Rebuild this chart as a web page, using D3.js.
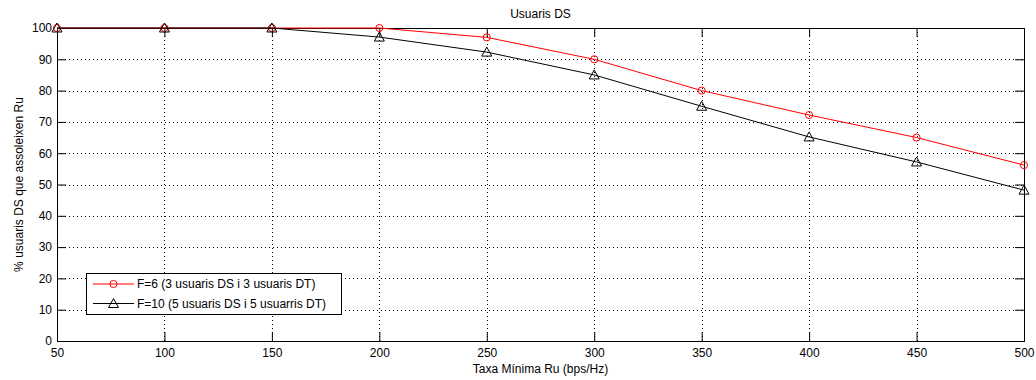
<!DOCTYPE html>
<html>
<head>
<meta charset="utf-8">
<script src="https://cdn.jsdelivr.net/npm/d3@7"></script>
<style>
  body { margin: 0; background: #fff; }
  svg { display: block; font-family: "Liberation Sans", Arial, sans-serif; }
</style>
</head>
<body>
<svg id="chart" width="1036" height="380"></svg>
<script>
var width = 1036, height = 380;

// data
var rates = [50, 100, 150, 200, 250, 300, 350, 400, 450, 500];
var f6 = [100, 100, 100, 100, 97, 90, 80, 72.2, 65, 56.2];
var f10 = [100, 100, 100, 97.1, 92.3, 85, 75, 65.2, 57.2, 48.2];
var xTicks = [50, 100, 150, 200, 250, 300, 350, 400, 450, 500];
var yTicks = [0, 10, 20, 30, 40, 50, 60, 70, 80, 90, 100];
var legendLabels = ["F=6 (3 usuaris DS i 3 usuaris DT)", "F=10 (5 usuaris DS i 5 usuarris DT)"];

var m = {left: 57, right: 12, top: 28, bottom: 39};

var svg = d3.select("svg#chart");

var x = d3.scaleLinear().domain([50, 500]).range([m.left, width - m.right]);
var y = d3.scaleLinear().domain([0, 100]).range([height - m.bottom, m.top]);

var x0 = x.range()[0], x1 = x.range()[1];
var y0 = y.range()[0], y1 = y.range()[1];

// grid
var grid = svg.append("g")
    .attr("stroke", "#000")
    .attr("stroke-width", 1)
    .attr("stroke-dasharray", "1,3");
grid.selectAll("line.gx")
  .data(xTicks.slice(1, -1))
  .enter().append("line")
    .attr("x1", d => Math.round(x(d)) + 0.5)
    .attr("x2", d => Math.round(x(d)) + 0.5)
    .attr("y1", y1).attr("y2", y0);
grid.selectAll("line.gy")
  .data(yTicks.slice(1, -1))
  .enter().append("line")
    .attr("y1", d => Math.round(y(d)) + 0.5)
    .attr("y2", d => Math.round(y(d)) + 0.5)
    .attr("x1", x0).attr("x2", x1);

// axes (ticks inside, box on all four sides)
var tl = 9;
var xAxis = svg.append("g")
    .attr("transform", "translate(0," + y0 + ")")
    .call(d3.axisBottom(x).tickValues(xTicks).tickSize(-tl).tickPadding(7).tickFormat(d3.format("d")));
var xTop = svg.append("g")
    .attr("transform", "translate(0," + y1 + ")")
    .call(d3.axisTop(x).tickValues(xTicks).tickSize(-tl).tickFormat(""));
var yAxis = svg.append("g")
    .attr("transform", "translate(" + x0 + ",0)")
    .call(d3.axisLeft(y).tickValues(yTicks).tickSize(-tl).tickPadding(5).tickFormat(d3.format("d")));
var yRight = svg.append("g")
    .attr("transform", "translate(" + x1 + ",0)")
    .call(d3.axisRight(y).tickValues(yTicks).tickSize(-tl).tickFormat(""));

[xAxis, xTop, yAxis, yRight].forEach(function(g) {
  g.select(".domain").remove();
  g.selectAll("line").attr("stroke", "#000");
  g.selectAll("text").attr("fill", "#000").style("font-size", "12px").style("font-family", "Liberation Sans, Arial, sans-serif");
});

svg.append("rect")
    .attr("x", x0 + 0.5).attr("y", y1 + 0.5)
    .attr("width", x1 - x0).attr("height", y0 - y1)
    .attr("fill", "none").attr("stroke", "#000");

// series
var line = d3.line().x(d => x(d[0])).y(d => y(d[1]));

function series(vals, color, marker) {
  var pts = rates.map((r, i) => [r, vals[i]]);
  var g = svg.append("g");
  g.append("path")
      .datum(pts)
      .attr("d", line)
      .attr("fill", "none")
      .attr("stroke", color)
      .attr("stroke-width", 1);
  g.selectAll("path.mk")
    .data(pts)
    .enter().append("path")
      .attr("class", "mk")
      .attr("transform", d => "translate(" + x(d[0]) + "," + y(d[1]) + ")")
      .attr("d", marker)
      .attr("fill", "none")
      .attr("stroke", color);
}

var circle = d3.symbol().type(d3.symbolCircle).size(40)();
var tri = "M0,-5L5,4L-5,4Z";

series(f6, "#ff0000", circle);
series(f10, "#000000", tri);

// title and labels
svg.append("text")
    .attr("x", (x0 + x1) / 2).attr("y", 18)
    .attr("text-anchor", "middle")
    .style("font-size", "12px")
    .text("Usuaris DS");

svg.append("text")
    .attr("x", (x0 + x1) / 2).attr("y", 373)
    .attr("text-anchor", "middle")
    .style("font-size", "12px")
    .text("Taxa Mínima Ru (bps/Hz)");

svg.append("text")
    .attr("transform", "translate(23," + ((y0 + y1) / 2) + ") rotate(-90)")
    .attr("text-anchor", "middle")
    .style("font-size", "12px")
    .text("% usuaris DS que assoleixen Ru");

// legend
var lg = svg.append("g").attr("transform", "translate(86,273)");
lg.append("rect")
    .attr("x", 0.5).attr("y", 0.5)
    .attr("width", 255).attr("height", 41)
    .attr("fill", "#fff").attr("stroke", "#000");

var legendStyle = [{color: "#ff0000", marker: circle}, {color: "#000", marker: tri}];
legendLabels.forEach(function(lab, i) {
  var ly = 11 + i * 19.5;
  lg.append("line")
      .attr("x1", 7).attr("x2", 48)
      .attr("y1", ly).attr("y2", ly)
      .attr("stroke", legendStyle[i].color);
  lg.append("path")
      .attr("transform", "translate(27.5," + ly + ")")
      .attr("d", legendStyle[i].marker)
      .attr("fill", "none")
      .attr("stroke", legendStyle[i].color);
  lg.append("text")
      .attr("x", 51).attr("y", ly + 4)
      .style("font-size", "12px")
      .text(lab);
});
</script>
</body>
</html>
